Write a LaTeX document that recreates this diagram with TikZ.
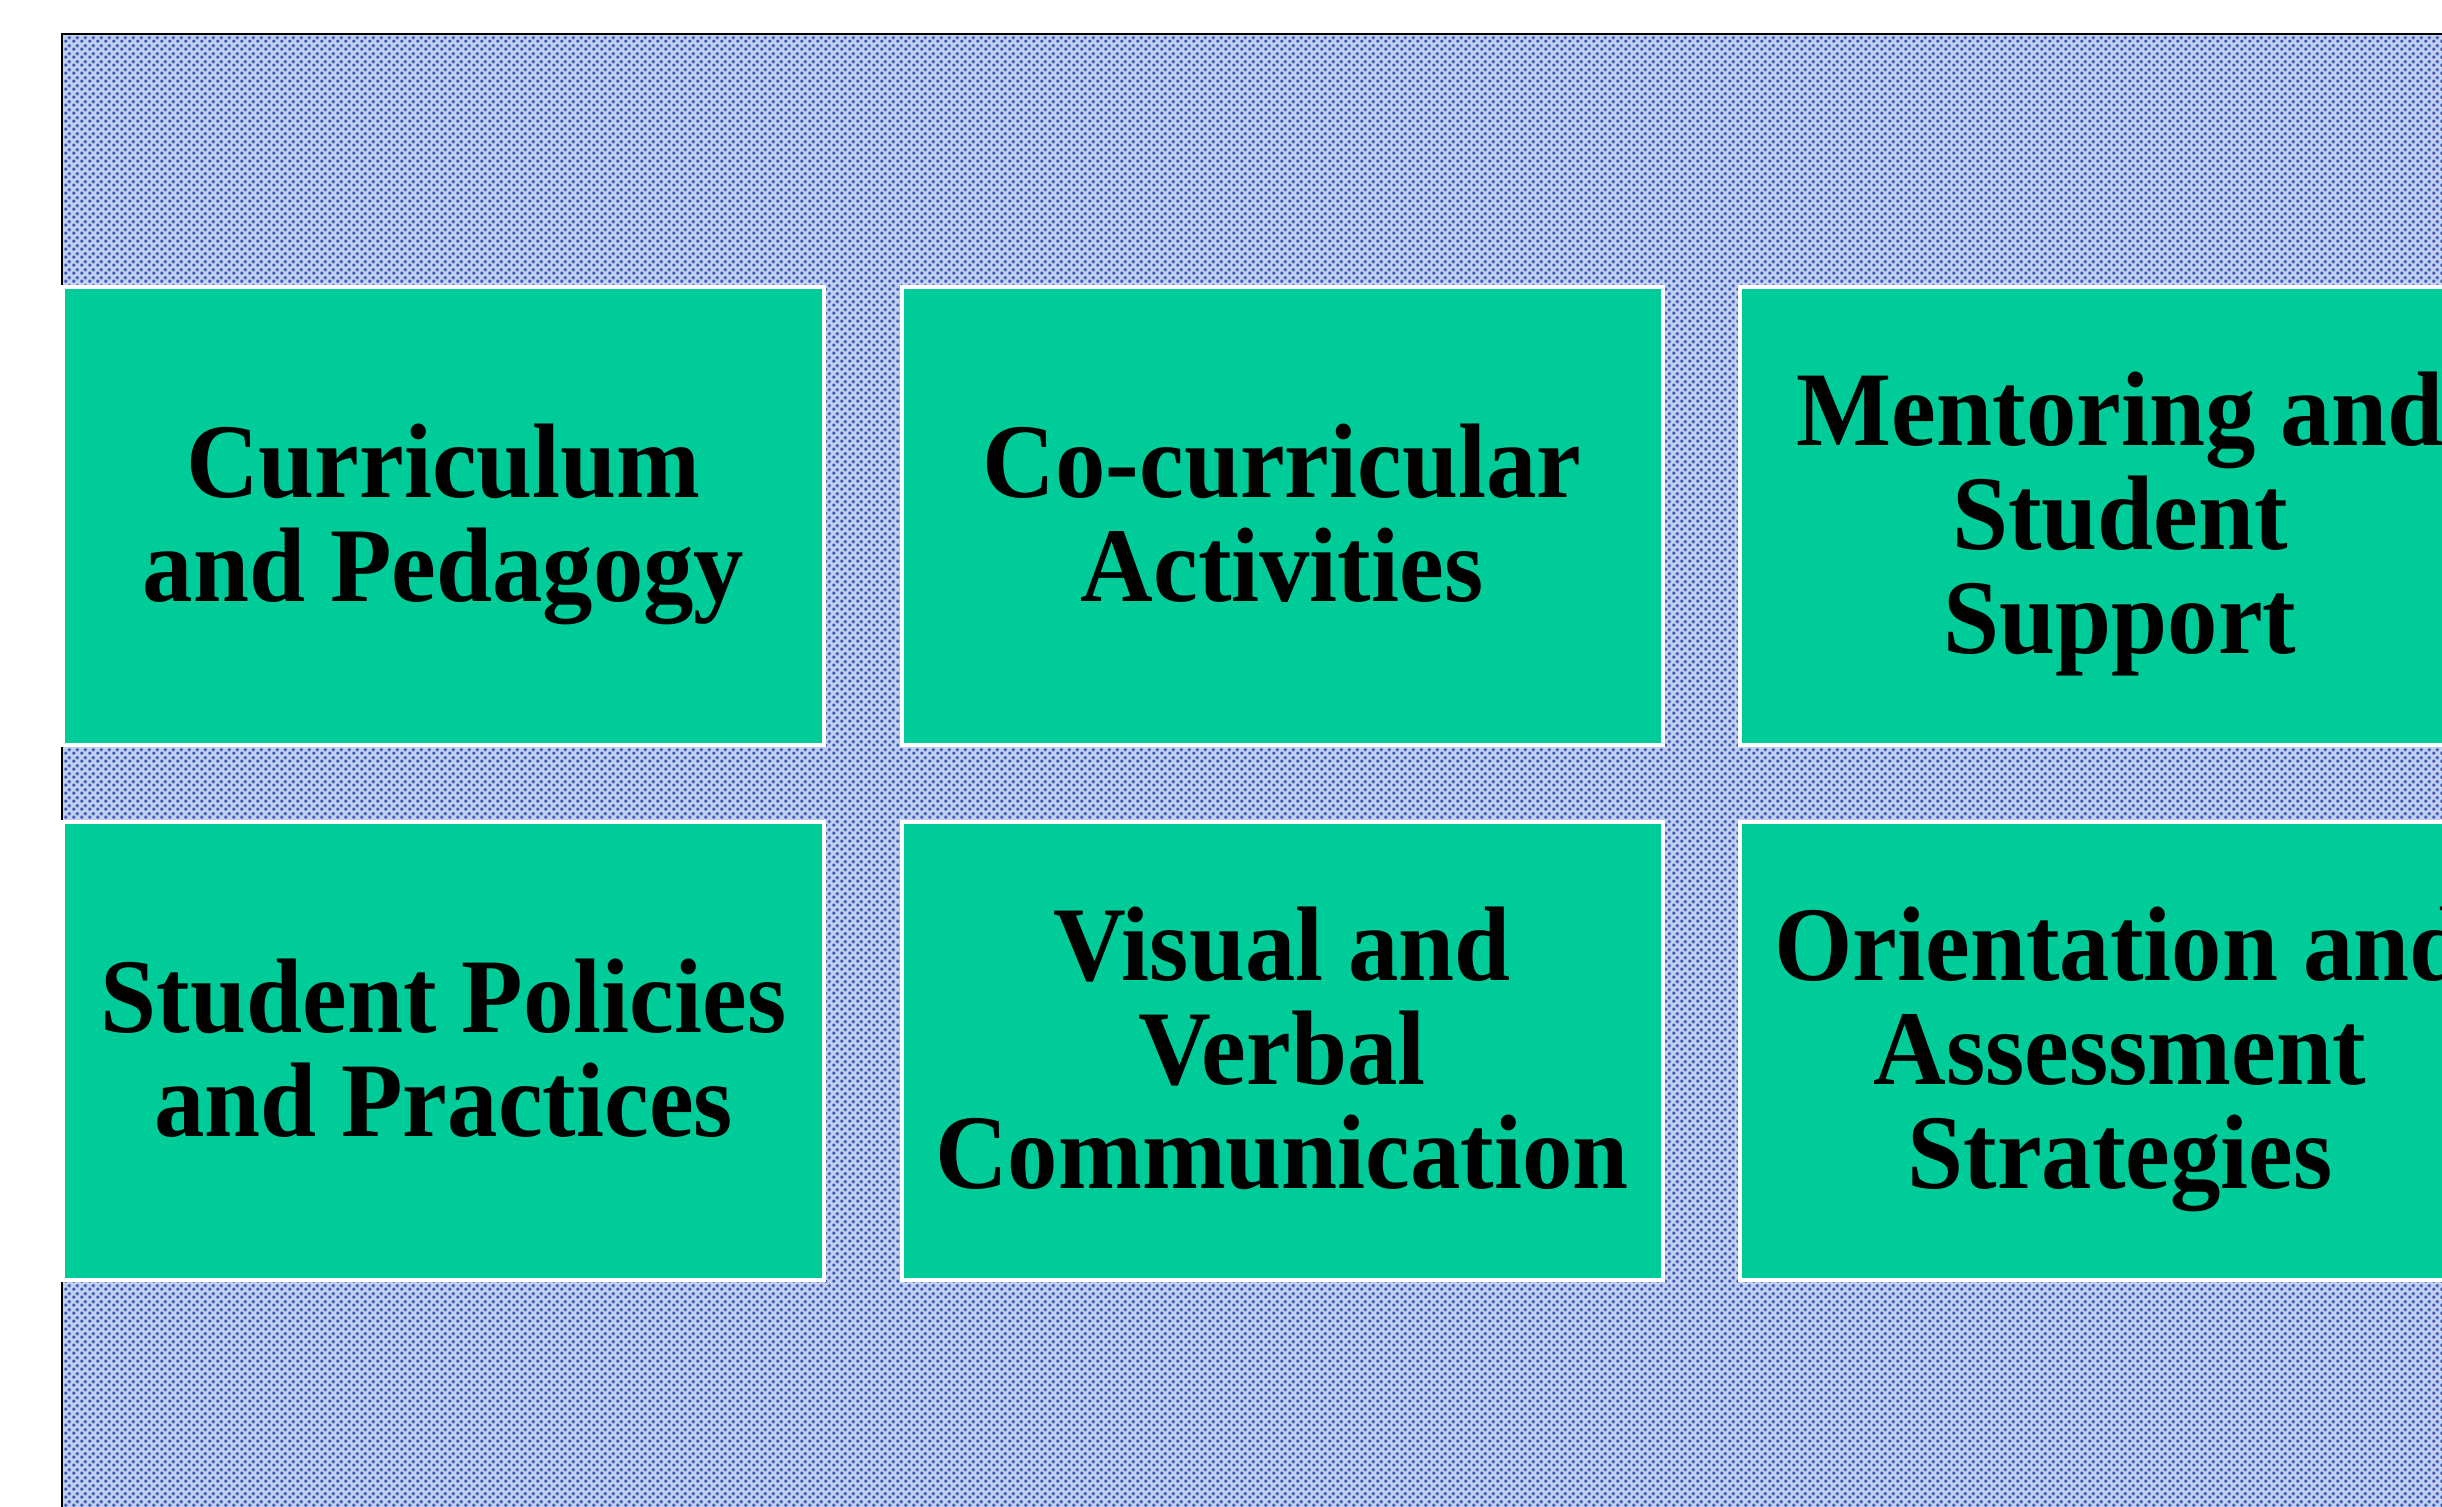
\documentclass[tikz,border=0pt]{standalone}
\usepackage{fontspec}
\usetikzlibrary{patterns.meta}
\newfontfamily\boxfont[FakeStretch=0.95]{Liberation Serif}
\definecolor{boxgreen}{HTML}{00CC99}
\definecolor{bgbase}{HTML}{C4D0EE}
\definecolor{bgdot}{HTML}{3E62C2}
\tikzdeclarepattern{
  name=bgdots,
  type=uncolored,
  bounding box={(0,0) and (2pt,2pt)},
  tile size={(2pt,2pt)},
  code={
    \fill (0.5pt,0.5pt) circle (0.55pt);
    \fill (1.5pt,1.5pt) circle (0.55pt);
  }
}
\tikzset{
  box/.style={draw=white, line width=1pt, fill=boxgreen, minimum width=190.25pt,
    minimum height=114.5pt, inner sep=0pt},
  lbl/.style={inner sep=0pt, align=center, text=black, yshift=-2pt,
    execute at end node={\vphantom{gy}},
    font=\boxfont\bfseries\fontsize{26.5pt}{26pt}\selectfont},
}
\begin{document}
\begin{tikzpicture}[x=0.25pt,y=-0.25pt]
\useasboundingbox (0,0) rectangle (2442,1507);
\clip (0,0) rectangle (2442,1507);
\fill[white] (0,0) rectangle (2442,1507);
\fill[bgbase] (62,34) rectangle (2460,1520);
\fill[pattern=bgdots, pattern color=bgdot] (62,34) rectangle (2460,1520);
\draw[black, line width=0.6pt] (62,1520) -- (62,34) -- (2460,34);
\node[box] (cp) at (443.5,516) {};
\node[box] (ca) at (1282,516) {};
\node[box] (ms) at (2120,516) {};
\node[box] (sp) at (443.5,1051) {};
\node[box] (vv) at (1282,1051) {};
\node[box] (oa) at (2120,1051) {};
\node[lbl] (cpt) at (cp.center) {Curriculum\\and Pedagogy};
\node[lbl] (cat) at (ca.center) {Co-curricular\\Activities};
\node[lbl] (mst) at (ms.center) {Mentoring and\\Student\\Support};
\node[lbl] (spt) at (sp.center) {Student Policies\\and Practices};
\node[lbl] (vvt) at (vv.center) {Visual and\\Verbal\\Communication};
\node[lbl] (oat) at (oa.center) {Orientation and\\Assessment\\Strategies};
\end{tikzpicture}
\end{document}
